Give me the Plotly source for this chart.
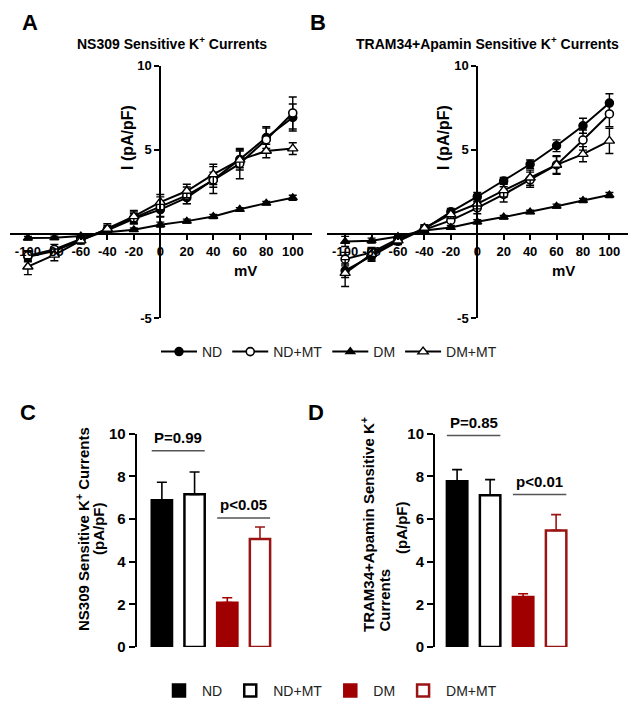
import plotly.graph_objects as go

# ---------------- data ----------------
voltages = [-100, -80, -60, -40, -20, 0, 20, 40, 60, 80, 100]
groups = ["ND", "ND+MT", "DM", "DM+MT"]

# Panel A: NS309 sensitive currents (pA/pF)
a_nd = [-1.36, -1.02, -0.36, 0.22, 0.90, 1.44, 2.15, 3.22, 4.43, 5.73, 6.92]
a_nd_err = [0.30, 0.25, 0.15, 0.20, 0.30, 0.40, 0.35, 0.45, 0.50, 0.65, 0.80]
a_ndmt = [-1.30, -0.92, -0.30, 0.25, 0.95, 1.60, 2.29, 3.20, 4.18, 5.60, 7.19]
a_ndmt_err = [0.30, 0.30, 0.20, 0.25, 0.35, 0.60, 0.50, 0.80, 0.90, 0.70, 0.95]
a_dm = [-0.25, -0.23, -0.12, 0.10, 0.25, 0.55, 0.76, 1.04, 1.46, 1.83, 2.15]
a_dm_err = [0.10, 0.10, 0.10, 0.10, 0.10, 0.15, 0.12, 0.12, 0.10, 0.10, 0.15]
a_dmmt = [-1.95, -1.25, -0.40, 0.30, 1.04, 1.89, 2.55, 3.54, 4.40, 4.93, 5.07]
a_dmmt_err = [0.47, 0.35, 0.20, 0.30, 0.35, 0.45, 0.40, 0.60, 0.60, 0.40, 0.35]

# Panel B: TRAM34+Apamin sensitive currents (pA/pF)
b_nd = [-2.19, -1.33, -0.44, 0.30, 1.31, 2.21, 3.15, 4.14, 5.24, 6.43, 7.78]
b_nd_err = [0.40, 0.30, 0.20, 0.20, 0.20, 0.25, 0.20, 0.25, 0.35, 0.45, 0.55]
b_ndmt = [-1.50, -1.10, -0.30, 0.25, 0.80, 1.55, 2.35, 3.22, 4.10, 5.58, 7.13]
b_ndmt_err = [0.40, 0.30, 0.20, 0.20, 0.30, 0.35, 0.45, 0.45, 0.55, 0.60, 0.75]
b_dm = [-0.45, -0.40, -0.15, 0.20, 0.38, 0.72, 1.00, 1.31, 1.65, 1.99, 2.31]
b_dm_err = [0.30, 0.15, 0.10, 0.10, 0.10, 0.12, 0.10, 0.10, 0.12, 0.12, 0.15]
b_dmmt = [-2.33, -1.20, -0.40, 0.35, 1.16, 1.79, 2.59, 3.34, 4.10, 4.74, 5.53]
b_dmmt_err = [0.80, 0.35, 0.20, 0.20, 0.25, 0.30, 0.40, 0.45, 0.50, 0.45, 0.75]

# Panel C: NS309 sensitive currents at +100 mV
c_means = [6.88, 7.16, 2.08, 5.06]
c_err = [0.85, 1.05, 0.23, 0.57]
c_sig_labels = ["P=0.99", "p<0.05"]
c_sig_y = [9.2, 6.05]

# Panel D: TRAM34+Apamin sensitive currents at +100 mV
d_means = [7.77, 7.12, 2.35, 5.47]
d_err = [0.55, 0.73, 0.15, 0.74]
d_sig_labels = ["P=0.85", "p<0.01"]
d_sig_y = [9.92, 7.15]

iv_ticks = [-100, -80, -60, -40, -20, 0, 20, 40, 60, 80, 100]
iv_yticks = [-5, 5, 10]
bar_yticks = [0, 2, 4, 6, 8, 10]

# ---------------- styling ----------------
W, H = 640, 720
FONT = "Liberation Sans, Arial, sans-serif"
RED = "#A00000"
RED_EDGE = "#9A1414"
SIG = "#555555"


def px(x):
    return x / W


def py(y):
    return 1 - y / H


fig = go.Figure()

marker_styles = {
    "ND": dict(symbol="circle", size=8, color="black", line=dict(color="black", width=1.5)),
    "ND+MT": dict(symbol="circle", size=8, color="white", line=dict(color="black", width=1.6)),
    "DM": dict(symbol="triangle-up", size=8, color="black", line=dict(color="black", width=1.2)),
    "DM+MT": dict(symbol="triangle-up", size=9, color="white", line=dict(color="black", width=1.4)),
}

a_series = [(a_nd, a_nd_err), (a_ndmt, a_ndmt_err), (a_dm, a_dm_err), (a_dmmt, a_dmmt_err)]
b_series = [(b_nd, b_nd_err), (b_ndmt, b_ndmt_err), (b_dm, b_dm_err), (b_dmmt, b_dmmt_err)]

for panel, series, xa, ya in [("A", a_series, "x", "y"), ("B", b_series, "x2", "y2")]:
    for g, (vals, errs) in zip(groups, series):
        fig.add_trace(go.Scatter(
            x=voltages, y=vals, mode="lines+markers", name=g,
            legendgroup=g, showlegend=(panel == "A"), legend="legend",
            line=dict(color="black", width=2),
            marker=marker_styles[g],
            error_y=dict(type="data", array=errs, visible=True, color="black",
                         thickness=1.4, width=4),
            xaxis=xa, yaxis=ya,
        ))

bar_fill = ["black", "white", RED, "white"]
bar_edge = ["black", "black", RED, RED_EDGE]
err_col = ["black", "black", RED, RED_EDGE]
BW = 0.62

for panel, means, errs, xa, ya in [("C", c_means, c_err, "x3", "y3"), ("D", d_means, d_err, "x4", "y4")]:
    for i, g in enumerate(groups):
        fig.add_trace(go.Bar(
            x=[i], y=[means[i]], width=BW, name=g,
            showlegend=(panel == "C"), legend="legend2",
            marker=dict(color=bar_fill[i], line=dict(color=bar_edge[i], width=2.5)),
            error_y=dict(type="data", symmetric=False, array=[errs[i]], arrayminus=[0],
                         visible=True, color=err_col[i], thickness=1.6, width=5),
            xaxis=xa, yaxis=ya,
        ))

# ---------------- axes ----------------
tickfont_iv = dict(family=FONT, size=13, color="black", weight="bold")
tickfont_bar = dict(family=FONT, size=15, color="black", weight="bold")

a_left, a_right = 10, 311.7
b_left, b_right = 327.3, 628.3
iv_top, iv_bot = 65.7, 318.0
xr = [-113.5, 114.3]
yr = [-5, 10]


def frac(v, r):
    return (v - r[0]) / (r[1] - r[0])


for (xa, ya, left, right) in [("xaxis", "yaxis", a_left, a_right), ("xaxis2", "yaxis2", b_left, b_right)]:
    xdom = [px(left), px(right)]
    ydom = [py(iv_bot), py(iv_top)]
    yzero = ydom[0] + frac(0, yr) * (ydom[1] - ydom[0])
    xzero = xdom[0] + frac(0, xr) * (xdom[1] - xdom[0])
    fig.layout[xa] = dict(
        domain=xdom, range=xr, anchor="free", position=yzero,
        showline=True, linecolor="black", linewidth=2,
        ticks="outside", ticklen=5, tickwidth=2, tickcolor="black",
        tickvals=iv_ticks, ticktext=[str(t) for t in iv_ticks],
        tickfont=tickfont_iv, showgrid=False, zeroline=False,
    )
    fig.layout[ya] = dict(
        domain=ydom, range=yr, anchor="free", position=xzero,
        showline=True, linecolor="black", linewidth=2,
        ticks="outside", ticklen=5, tickwidth=2, tickcolor="black",
        tickvals=iv_yticks, ticktext=[str(t) for t in iv_yticks],
        tickfont=tickfont_iv, showgrid=False, zeroline=False,
    )

bar_top, bar_bot = 433.8, 647.0
c_axis_x, c_step = 136.7, 32.7
d_axis_x, d_step = 435.0, 33.0
c_range = [-0.77, 3.5]
d_range = [-0.67, 3.5]

for xa, ya, ax_x, step, rng, yanchor in [("xaxis3", "yaxis3", c_axis_x, c_step, c_range, "x3"),
                                         ("xaxis4", "yaxis4", d_axis_x, d_step, d_range, "x4")]:
    right = ax_x + (rng[1] - rng[0]) * step
    fig.layout[xa] = dict(domain=[px(ax_x), px(right)], range=rng, visible=False,
                          anchor=ya.replace("axis", ""))
    fig.layout[ya] = dict(
        domain=[py(bar_bot), py(bar_top)], range=[0, 10], anchor=yanchor,
        showline=True, linecolor="black", linewidth=2,
        ticks="outside", ticklen=6, tickwidth=2, tickcolor="black",
        tickvals=bar_yticks, tickfont=tickfont_bar, showgrid=False, zeroline=False,
    )

# ---------------- significance markers ----------------
shapes = []
annotations = []
for labels, ys, xr_, yr_ in [(c_sig_labels, c_sig_y, "x3", "y3"), (d_sig_labels, d_sig_y, "x4", "y4")]:
    pairs = [(0, 1), (2, 3)]
    for lab, yv, (i0, i1) in zip(labels, ys, pairs):
        x0 = i0 - BW / 2
        x1 = i1 + BW / 2
        shapes.append(dict(type="line", xref=xr_, yref=yr_, x0=x0, x1=x1, y0=yv, y1=yv,
                           line=dict(color=SIG, width=1.5)))
        annotations.append(dict(text=f"<b>{lab}</b>", xref=xr_, yref=yr_, x=(x0 + x1) / 2, y=yv,
                                yshift=3, yanchor="bottom", showarrow=False,
                                font=dict(family=FONT, size=15, color="black")))


def ann(text, x, y, size, bold=True, angle=0, xanchor="center", yanchor="middle"):
    annotations.append(dict(
        text=f"<b>{text}</b>" if bold else text, xref="paper", yref="paper",
        x=px(x), y=py(y), xanchor=xanchor, yanchor=yanchor, showarrow=False,
        textangle=angle, font=dict(family=FONT, size=size, color="black")))


ann("A", 30, 22, 22)
ann("B", 318, 22, 22)
ann("C", 28, 412, 22)
ann("D", 316, 412, 22)

ann("NS309 Sensitive K<sup>+</sup> Currents", 172, 43, 14)
ann("TRAM34+Apamin Sensitive K<sup>+</sup> Currents", 487, 43, 14)
ann("I (pA/pF)", 127, 138, 16, angle=-90)
ann("I (pA/pF)", 443, 138, 16, angle=-90)
ann("mV", 245, 270, 15)
ann("mV", 563, 270, 15)

ann("NS309 Sensitive K<sup>+</sup> Currents", 82, 529, 15, angle=-90)
ann("(pA/pF)", 98, 529, 15, angle=-90)
ann("TRAM34+Apamin Sensitive K<sup>+</sup>", 367, 525, 15, angle=-90)
ann("Currents", 384, 634, 15, angle=-90, yanchor="bottom")
ann("(pA/pF)", 401, 528, 15, angle=-90)

legend_common = dict(orientation="h", xanchor="left", yanchor="middle",
                     font=dict(family=FONT, size=14, color="#222222"), itemwidth=36,
                     bgcolor="rgba(0,0,0,0)")

fig.update_layout(
    width=W, height=H,
    margin=dict(l=0, r=0, t=0, b=0, autoexpand=False),
    paper_bgcolor="white", plot_bgcolor="white",
    barmode="overlay",
    font=dict(family=FONT, color="black"),
    shapes=shapes, annotations=annotations,
    legend=dict(x=px(156), y=py(352), **legend_common),
    legend2=dict(x=px(156), y=py(691), **legend_common),
)

fig.write_html("out.html", config={"displayModeBar": False},
               post_script="document.body.style.margin='0';")
